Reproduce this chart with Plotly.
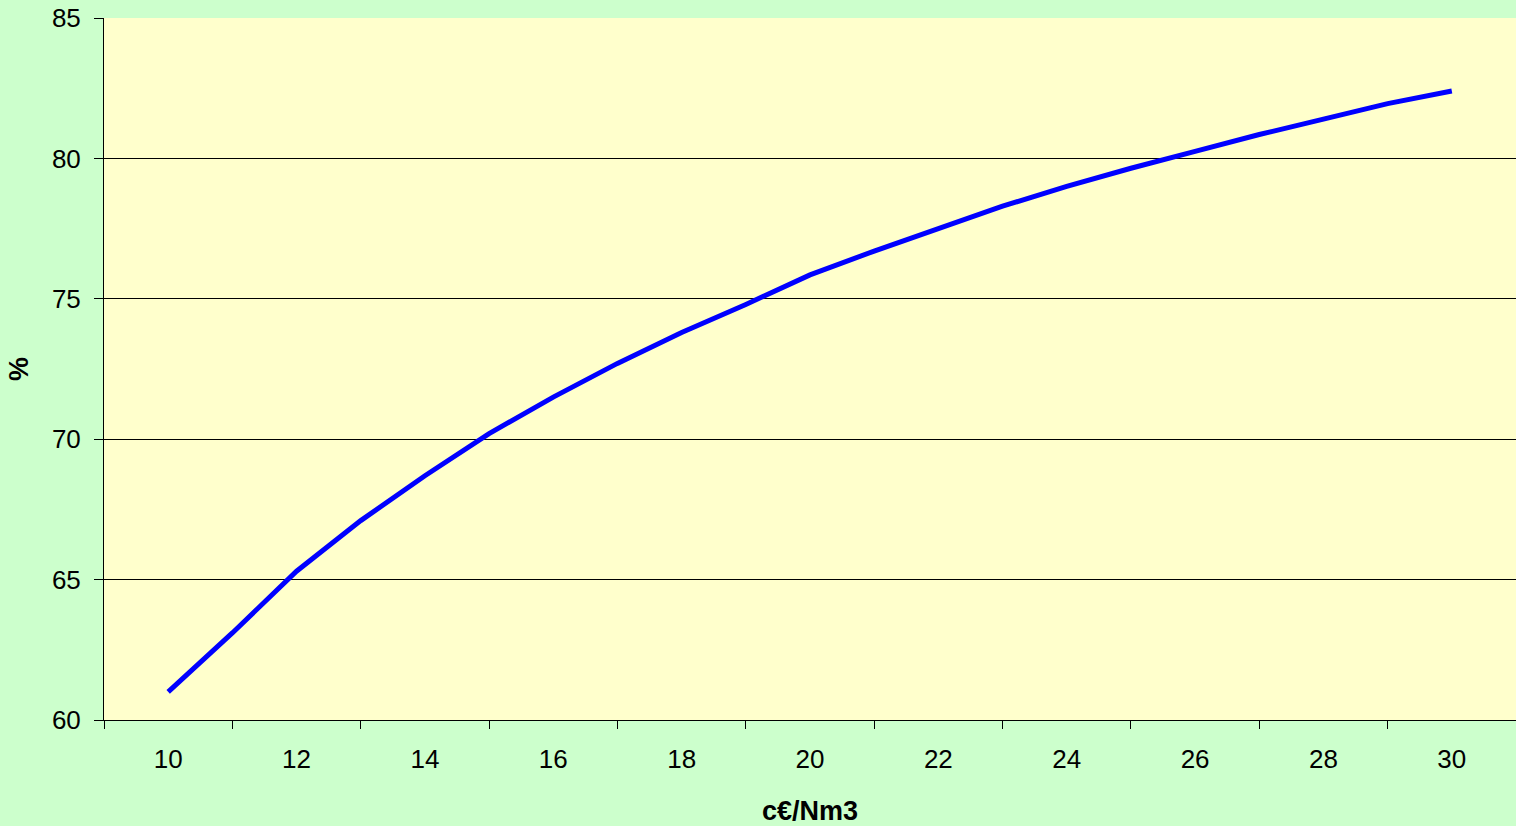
import plotly.graph_objects as go

price = [10, 11, 12, 13, 14, 15, 16, 17, 18, 19, 20,
         21, 22, 23, 24, 25, 26, 27, 28, 29, 30]
percent = [61.0, 63.1, 65.3, 67.1, 68.7, 70.2, 71.5, 72.7, 73.8, 74.8, 75.85,
           76.7, 77.5, 78.3, 79.0, 79.65, 80.25, 80.85, 81.4, 81.95, 82.4]
x_labels = [10, 12, 14, 16, 18, 20, 22, 24, 26, 28, 30]
y_ticks = [60, 65, 70, 75, 80, 85]

font = "Liberation Sans, Arial, sans-serif"

fig = go.Figure()
fig.add_trace(go.Scatter(x=price, y=percent, mode="lines",
                         line=dict(color="#0000FF", width=5),
                         showlegend=False, hoverinfo="x+y"))

fig.update_layout(
    width=1516, height=826,
    margin=dict(l=104, r=0, t=18, b=106),
    paper_bgcolor="#CCFFCC",
    plot_bgcolor="#FFFFCC",
    font=dict(family=font, size=26, color="black"),
    showlegend=False,
)
fig.update_xaxes(
    range=[9, 31],
    tickmode="array", tickvals=x_labels, ticktext=[str(v) for v in x_labels],
    ticks="", showgrid=False, zeroline=False,
    showline=True, linecolor="black", linewidth=1,
    ticklabelstandoff=16,
    minor=dict(tickmode="linear", tick0=9, dtick=2, ticks="outside",
               ticklen=8, tickcolor="black", tickwidth=1, showgrid=False),
    title=dict(text="<b>c€/Nm3</b>", font=dict(size=27), standoff=30),
)
fig.update_yaxes(
    range=[60, 85],
    tickmode="array", tickvals=y_ticks,
    ticks="outside", ticklen=9, tickcolor="black", tickwidth=1,
    showgrid=True, gridcolor="black", gridwidth=1,
    zeroline=False, showline=True, linecolor="black", linewidth=1,
    ticklabelstandoff=8,
    title=dict(text="<b>%</b>", font=dict(size=27), standoff=15),
)

fig.write_html(
    "out.html",
    config={"displayModeBar": False},
    post_script="document.body.style.margin='0';document.body.style.overflow='hidden';",
)
